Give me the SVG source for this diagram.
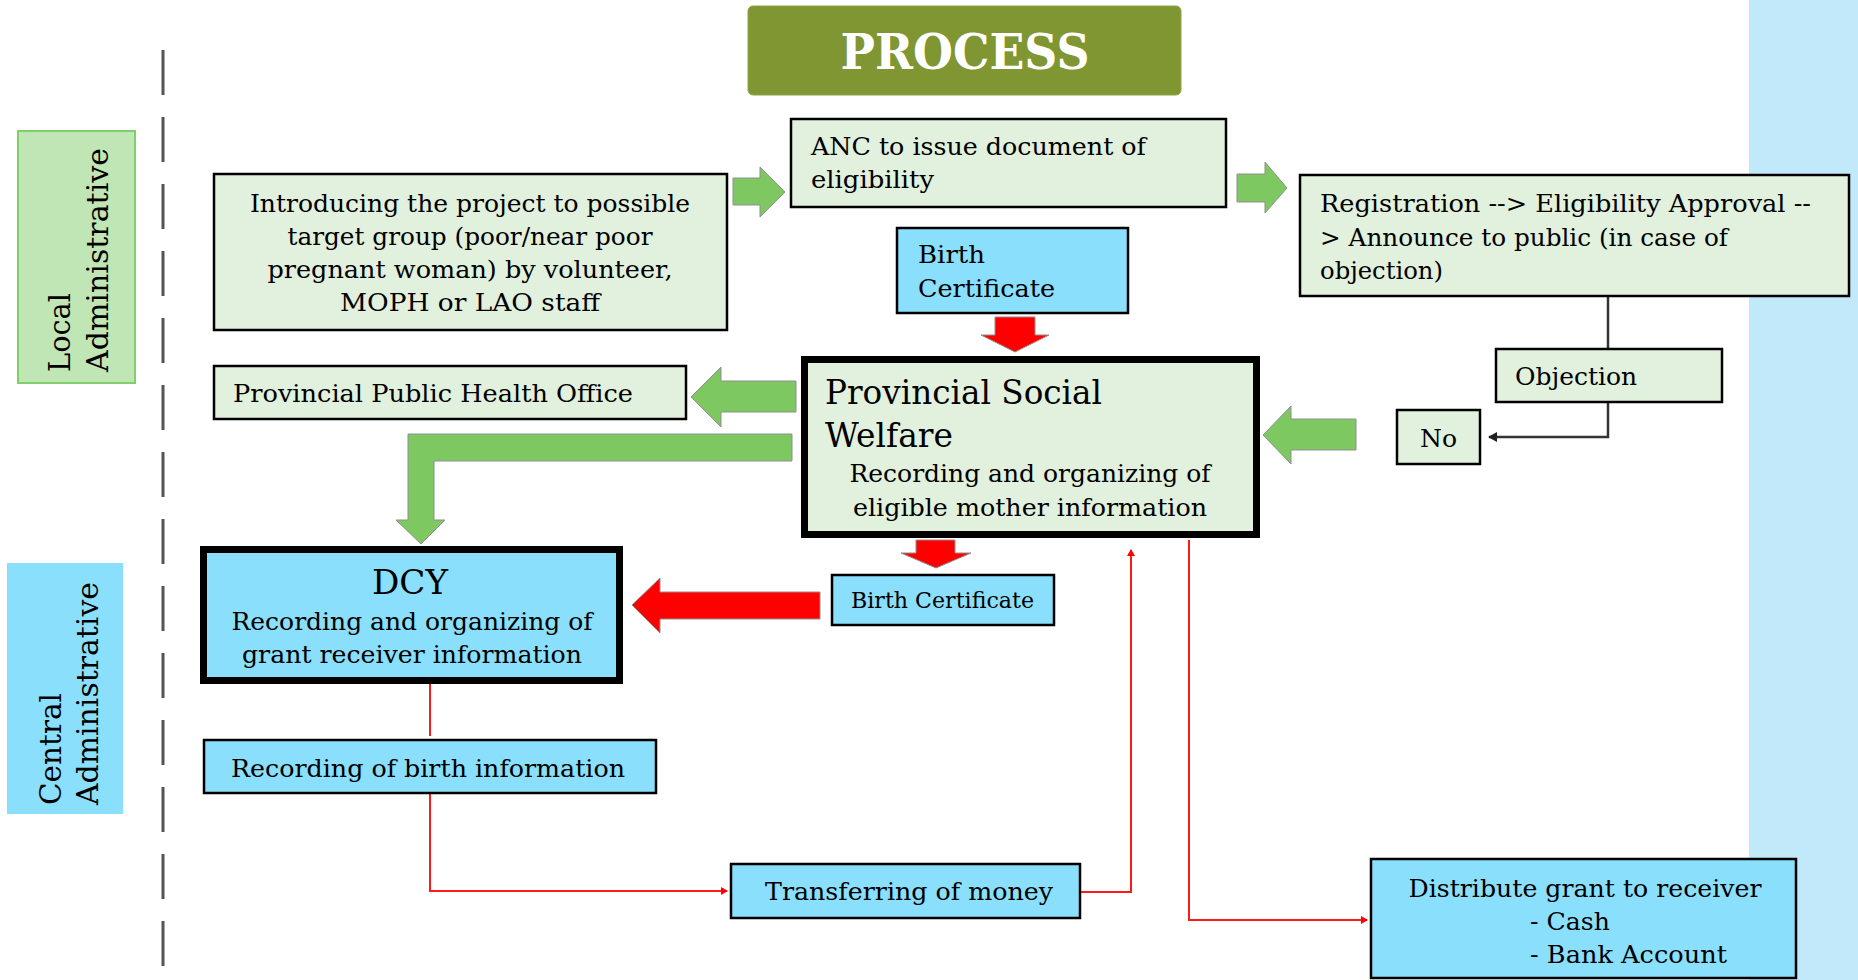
<svg xmlns="http://www.w3.org/2000/svg" width="1858" height="980" viewBox="0 0 1858 980">
<style>
.t{font-family:"DejaVu Serif","Liberation Serif",serif;font-size:25px;fill:#000}
.big{font-size:33px}
.sm{font-size:22px}
.side{font-family:"DejaVu Serif","Liberation Serif",serif;font-size:30px;fill:#000}
.bg{fill:#e2f0de;stroke:#000;stroke-width:2.5}
.bb{fill:#8adffc;stroke:#000;stroke-width:2.5}
.thick{stroke-width:7}
.ga{fill:#7ec862;stroke:#8f8f8f;stroke-width:1}
.ra{fill:#ff0000;stroke:#8f8f8f;stroke-width:1}
.rl{fill:none;stroke:#ff1a1a;stroke-width:2}
.dl{fill:none;stroke:#333;stroke-width:2.5}
</style>
<defs>
<marker id="mr" markerWidth="8" markerHeight="8" refX="6" refY="4" orient="auto" markerUnits="userSpaceOnUse">
<path d="M0,0 L7,4 L0,8 Z" fill="#ff0000"/>
</marker>
<marker id="md" markerWidth="10" markerHeight="10" refX="8" refY="5" orient="auto" markerUnits="userSpaceOnUse">
<path d="M0,0 L9,5 L0,10 Z" fill="#222"/>
</marker>
</defs>
<rect x="0" y="0" width="1858" height="980" fill="#fff"/>
<rect x="1749" y="0" width="109" height="980" fill="#c1e9fa"/>
<line x1="163" y1="50" x2="163" y2="968" stroke="#555" stroke-width="3" stroke-dasharray="45 22"/>

<g id="local-admin">
<rect x="18" y="131" width="117" height="252" fill="#c0e6b5" stroke="#80cf6b" stroke-width="2"/>
<text class="side" transform="translate(70,372) rotate(-90)" textLength="79" lengthAdjust="spacingAndGlyphs">Local</text>
<text class="side" transform="translate(108,372) rotate(-90)" textLength="224" lengthAdjust="spacingAndGlyphs">Administrative</text>
</g>
<g id="central-admin">
<rect x="7" y="563" width="116" height="251" fill="#8adffc"/>
<text class="side" transform="translate(61,805) rotate(-90)" textLength="112" lengthAdjust="spacingAndGlyphs">Central</text>
<text class="side" transform="translate(98,805) rotate(-90)" textLength="223" lengthAdjust="spacingAndGlyphs">Administrative</text>
</g>

<g id="process">
<rect x="748" y="6" width="433" height="89" rx="5" fill="#7f9632" stroke="#8fa544" stroke-width="1"/>
<text x="965" y="69" text-anchor="middle" font-family="DejaVu Serif, Liberation Serif, serif" font-weight="bold" font-size="49" fill="#fff" textLength="249" lengthAdjust="spacingAndGlyphs">PROCESS</text>
</g>

<g id="connectors">
<polygon class="ga" points="733,178 760,178 760,167 785,192 760,217 760,205 733,205"/>
<polygon class="ga" points="1237,174 1265,174 1265,162 1287,188 1265,213 1265,202 1237,202"/>
<polygon class="ga" points="796,381 721,381 721,367 691,397 721,427 721,412 796,412"/>
<polygon class="ga" points="792,434 792,461 434,461 434,520 445,520 421,544 396,520 408,520 408,434"/>
<polygon class="ga" points="1356,419 1291,419 1291,406 1263,435 1291,464 1291,450 1356,450"/>
<polygon class="ra" points="995,317 1035,317 1035,335 1049,335 1015,352 981,335 995,335"/>
<polygon class="ra" points="916,540 955,540 955,553 971,553 936,568 901,553 916,553"/>
<polygon class="ra" points="820,592 660,592 660,578 632,605 660,633 660,619 820,619"/>
<polyline class="dl" points="1608,297 1608,348"/>
<polyline class="dl" points="1608,403 1608,437 1489,437" marker-end="url(#md)"/>
<polyline class="rl" points="430,684 430,736"/>
<polyline class="rl" points="430,794 430,891 727,891" marker-end="url(#mr)"/>
<polyline class="rl" points="1081,892 1131,892 1131,550" marker-end="url(#mr)"/>
<polyline class="rl" points="1189,540 1189,920 1367,920" marker-end="url(#mr)"/>
</g>

<g id="introducing">
<rect class="bg" x="214" y="174" width="513" height="156"/>
<text class="t" text-anchor="middle" x="470" y="212" textLength="440" lengthAdjust="spacingAndGlyphs">Introducing the project to possible</text>
<text class="t" text-anchor="middle" x="470" y="245" textLength="365" lengthAdjust="spacingAndGlyphs">target group (poor/near poor</text>
<text class="t" text-anchor="middle" x="470" y="278" textLength="405" lengthAdjust="spacingAndGlyphs">pregnant woman) by volunteer,</text>
<text class="t" text-anchor="middle" x="470" y="311" textLength="260" lengthAdjust="spacingAndGlyphs">MOPH or LAO staff</text>
</g>
<g id="anc">
<rect class="bg" x="791" y="119" width="435" height="88"/>
<text class="t" x="811" y="155" textLength="335" lengthAdjust="spacingAndGlyphs">ANC to issue document of</text>
<text class="t" x="811" y="188" textLength="123" lengthAdjust="spacingAndGlyphs">eligibility</text>
</g>
<g id="registration">
<rect class="bg" x="1300" y="175" width="549" height="121"/>
<text class="t" x="1320" y="212" textLength="491" lengthAdjust="spacingAndGlyphs">Registration --&gt; Eligibility Approval --</text>
<text class="t" x="1320" y="246" textLength="408" lengthAdjust="spacingAndGlyphs">&gt; Announce to public (in case of</text>
<text class="t" x="1320" y="279" textLength="123" lengthAdjust="spacingAndGlyphs">objection)</text>
</g>
<g id="birth-cert-top">
<rect class="bb" x="897" y="228" width="231" height="85"/>
<text class="t" x="918" y="263" textLength="67" lengthAdjust="spacingAndGlyphs">Birth</text>
<text class="t" x="918" y="297" textLength="137" lengthAdjust="spacingAndGlyphs">Certificate</text>
</g>
<g id="objection">
<rect class="bg" x="1496" y="349" width="226" height="53"/>
<text class="t" x="1515" y="385" textLength="122" lengthAdjust="spacingAndGlyphs">Objection</text>
</g>
<g id="no">
<rect class="bg" x="1397" y="410" width="83" height="54"/>
<text class="t" x="1420" y="447" textLength="37" lengthAdjust="spacingAndGlyphs">No</text>
</g>
<g id="ppho">
<rect class="bg" x="214" y="366" width="472" height="53"/>
<text class="t" x="233" y="402" textLength="400" lengthAdjust="spacingAndGlyphs">Provincial Public Health Office</text>
</g>
<g id="psw">
<rect class="bg thick" x="804.5" y="359.5" width="452" height="175"/>
<text class="t big" x="825" y="404" textLength="277" lengthAdjust="spacingAndGlyphs">Provincial Social</text>
<text class="t big" x="825" y="447" textLength="128" lengthAdjust="spacingAndGlyphs">Welfare</text>
<text class="t" text-anchor="middle" x="1030" y="482" textLength="361" lengthAdjust="spacingAndGlyphs">Recording and organizing of</text>
<text class="t" text-anchor="middle" x="1030" y="516" textLength="354" lengthAdjust="spacingAndGlyphs">eligible mother information</text>
</g>
<g id="dcy">
<rect class="bb thick" x="203.5" y="549.5" width="416" height="131"/>
<text class="t big" text-anchor="middle" x="410" y="594" textLength="76" lengthAdjust="spacingAndGlyphs">DCY</text>
<text class="t" text-anchor="middle" x="412" y="630" textLength="361" lengthAdjust="spacingAndGlyphs">Recording and organizing of</text>
<text class="t" text-anchor="middle" x="412" y="663" textLength="340" lengthAdjust="spacingAndGlyphs">grant receiver information</text>
</g>
<g id="birth-cert-low">
<rect class="bb" x="832" y="575" width="222" height="50"/>
<text class="t sm" x="851" y="608" textLength="183" lengthAdjust="spacingAndGlyphs">Birth Certificate</text>
</g>
<g id="rec-birth">
<rect class="bb" x="204" y="740" width="452" height="53"/>
<text class="t" x="231" y="777" textLength="394" lengthAdjust="spacingAndGlyphs">Recording of birth information</text>
</g>
<g id="transfer">
<rect class="bb" x="731" y="864" width="349" height="54"/>
<text class="t" x="765" y="900" textLength="288" lengthAdjust="spacingAndGlyphs">Transferring of money</text>
</g>
<g id="distribute">
<rect class="bb" x="1371" y="859" width="425" height="119"/>
<text class="t" text-anchor="middle" x="1585" y="897" textLength="353" lengthAdjust="spacingAndGlyphs">Distribute grant to receiver</text>
<text class="t" x="1530" y="930" textLength="80" lengthAdjust="spacingAndGlyphs">- Cash</text>
<text class="t" x="1530" y="963" textLength="197" lengthAdjust="spacingAndGlyphs">- Bank Account</text>
</g>
</svg>
